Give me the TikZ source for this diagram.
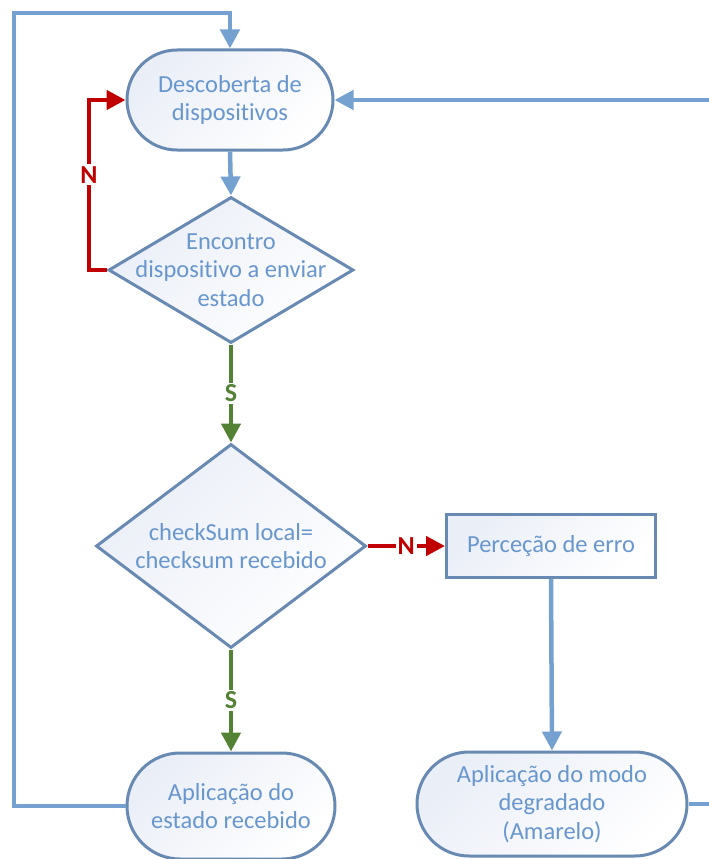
\documentclass[tikz,border=0pt]{standalone}
\usepackage{fontspec}
\setmainfont{Carlito}[Ligatures=NoCommon]
\usetikzlibrary{shapes.geometric,arrows.meta}

\definecolor{edgeblue}{RGB}{104,138,178}
\definecolor{flowblue}{RGB}{116,161,208}
\definecolor{txtblue}{RGB}{104,150,206}
\definecolor{shadeblue}{RGB}{234,238,247}
\definecolor{nored}{RGB}{192,0,0}
\definecolor{yesgreen}{RGB}{84,130,53}

\tikzset{
  txt/.style={text=txtblue, font=\fontsize{24.5}{28.5}\selectfont, align=center},
  box/.style={txt, draw=edgeblue, line width=3pt, top color=shadeblue,
    bottom color=white, shading angle=45, inner sep=0pt},
  terminal/.style={box, rectangle},
  decision/.style={box, diamond},
  tip/.style={-{Triangle[length=19pt,width=19pt]}},
  flow/.style={draw=flowblue, line width=4.5pt},
  noline/.style={draw=nored, line width=4.5pt},
  yesline/.style={draw=yesgreen, line width=4.5pt},
  answer/.style={fill=white, inner sep=2pt, font=\fontsize{26}{26}\selectfont\bfseries},
}

\begin{document}
\begin{tikzpicture}[x=1pt, y=-1pt]
\useasboundingbox (0,0) rectangle (709,859);
\clip (0,0) rectangle (709,859);

% process steps
\node[terminal, minimum width=206pt, minimum height=100pt, rounded corners=50pt]
  (start) at (230,100) {Descoberta de\\dispositivos};
\node[decision, minimum width=245pt, minimum height=146pt,
  label={[txt]center:Encontro\\dispositivo a enviar\\estado}] (d1) at (231,270) {};
\node[decision, minimum width=270pt, minimum height=204pt,
  label={[txt]center:checkSum local=\\checksum recebido}] (d2) at (231,546) {};
\node[terminal, minimum width=209pt, minimum height=63pt]
  (err) at (551,546) {Perceção de erro};
\node[terminal, minimum width=208pt, minimum height=106pt, rounded corners=53pt]
  (ok) at (231,806) {Aplicação do\\estado recebido};
\node[terminal, minimum width=270pt, minimum height=104pt, rounded corners=52pt]
  (deg) at (552,804) {Aplicação do modo\\degradado\\(Amarelo)};

% routing points
\coordinate (nloop) at (89,270);
\coordinate (lefttop) at (14,13);
\coordinate (righttop) at (730,100);

% connectors
\draw[flow, tip] (start.south) -- (d1.north);
\draw[noline, tip] (d1.west) -- (nloop)
  -- node[answer, text=nored, pos=0.56] {N} (nloop |- start.west) -- (start.west);
\draw[yesline, tip] (d1.south) -- node[answer, text=yesgreen] {S} (d2.north);
\draw[yesline, tip] (d2.south) -- node[answer, text=yesgreen] {S} (ok.north);
\draw[noline, tip] (d2.east) -- node[answer, text=nored] {N} (err.west);
\draw[flow, tip] (err.south) -- (deg.north);
\draw[flow, tip] (ok.west) -| (lefttop) -| (start.north);
\draw[flow, tip] (deg.east) -| (righttop) -- (start.east);
\end{tikzpicture}
\end{document}
